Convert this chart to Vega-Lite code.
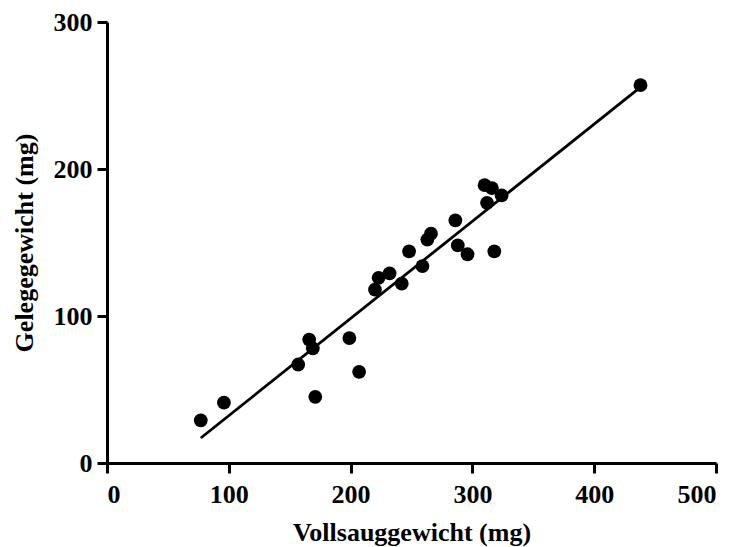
{
  "$schema": "https://vega.github.io/schema/vega-lite/v6.json",
  "width": 609,
  "height": 441,
  "autosize": {"type": "none"},
  "padding": {"left": 107, "top": 22, "right": 21, "bottom": 84},
  "background": "white",
  "config": {
    "view": {"stroke": null},
    "axis": {
      "grid": false,
      "domainColor": "black",
      "domainWidth": 3,
      "tickColor": "black",
      "tickWidth": 3,
      "tickSize": 10,
      "labelFont": "Liberation Serif",
      "labelFontWeight": "bold",
      "labelFontSize": 26,
      "labelColor": "black",
      "titleFont": "Liberation Serif",
      "titleFontWeight": "bold",
      "titleFontSize": 26,
      "titleColor": "black"
    }
  },
  "datasets": {
    "pts": [
      {"v": 77, "g": 29}, {"v": 96, "g": 41}, {"v": 157, "g": 67}, {"v": 166, "g": 84},
      {"v": 169, "g": 78}, {"v": 171, "g": 45}, {"v": 199, "g": 85}, {"v": 207, "g": 62},
      {"v": 220, "g": 118}, {"v": 223, "g": 126}, {"v": 232, "g": 129}, {"v": 242, "g": 122},
      {"v": 248, "g": 144}, {"v": 259, "g": 134}, {"v": 263, "g": 152}, {"v": 266, "g": 156},
      {"v": 286, "g": 165}, {"v": 288, "g": 148}, {"v": 296, "g": 142}, {"v": 310, "g": 189},
      {"v": 316, "g": 187}, {"v": 312, "g": 177}, {"v": 318, "g": 144}, {"v": 324, "g": 182},
      {"v": 438, "g": 257}
    ],
    "fit": [{"v": 77, "g": 17}, {"v": 437, "g": 255}]
  },
  "layer": [
    {
      "data": {"name": "fit"},
      "mark": {"type": "line", "color": "black", "strokeWidth": 2.8},
      "encoding": {
        "x": {"field": "v", "type": "quantitative"},
        "y": {"field": "g", "type": "quantitative"}
      }
    },
    {
      "data": {"name": "pts"},
      "mark": {"type": "point", "filled": true, "shape": "circle", "color": "black", "opacity": 1, "size": 190},
      "encoding": {
        "x": {
          "field": "v", "type": "quantitative",
          "scale": {"domain": [0, 500], "nice": false, "zero": true},
          "axis": {"values": [0, 100, 200, 300, 400, 500], "title": "Vollsauggewicht (mg)", "labelPadding": 8, "titlePadding": 12}
        },
        "y": {
          "field": "g", "type": "quantitative",
          "scale": {"domain": [0, 300], "nice": false, "zero": true},
          "axis": {"values": [0, 100, 200, 300], "title": "Gelegegewicht (mg)", "labelPadding": 5, "titlePadding": 16}
        }
      }
    }
  ]
}
